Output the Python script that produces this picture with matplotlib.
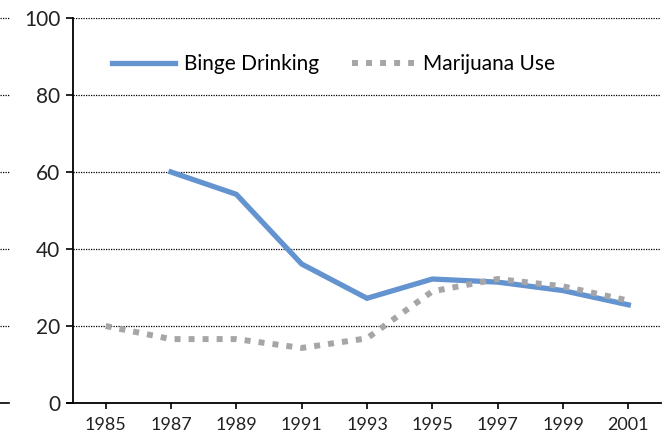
import matplotlib.pyplot as plt
import matplotlib.transforms as mtransforms

plt.rcParams['font.family'] = ['Lato', 'DejaVu Sans']

years = ['1985', '1987', '1989', '1991', '1993', '1995', '1997', '1999', '2001']
binge = [None, 60, 54.2, 36.1, 27.2, 32.2, 31.4, 29.2, 25.5]
marijuana = [20, 16.6, 16.6, 14.3, 16.8, 29.0, 32.2, 30.3, 26.6]
yticks = [0, 20, 40, 60, 80, 100]

fig = plt.figure(figsize=(6.67, 4.42), dpi=100)
ax = fig.add_axes([73/667, 39/442, 588/667, 385/442])

xs = list(range(len(years)))
bx = [x for x, v in zip(xs, binge) if v is not None]
bv = [v for v in binge if v is not None]
ax.plot(bx, bv, color='#6494d0', lw=3.8, solid_joinstyle='miter', label='Binge Drinking', zorder=3)
ax.plot(xs, marijuana, color='#a6a6a8', lw=4.3, linestyle=(0, (1, 1.35)),
        dash_capstyle='butt', label='Marijuana Use', zorder=4)

ax.set_xlim(-0.5, len(years) - 0.5)
ax.set_ylim(0, 100)
ax.set_xticks(xs)
ax.set_xticklabels(years)
ax.set_yticks(yticks)

for y in yticks[1:]:
    ax.axhline(y, color='black', lw=0.9, linestyle=(0, (1, 1)), zorder=1)

# leftover grid stubs at the far left edge of the picture
trans = mtransforms.blended_transform_factory(fig.transFigure, ax.transData)
for y in yticks[1:]:
    ax.plot([0, 9/667], [y, y], transform=trans, color='black', lw=0.9,
            linestyle=(0, (1, 1)), clip_on=False)
ax.plot([0, 9/667], [0, 0], transform=trans, color='black', lw=1.2, clip_on=False)

for s in ['top', 'right']:
    ax.spines[s].set_visible(False)
for s in ['left', 'bottom']:
    ax.spines[s].set_linewidth(1.3)
ax.spines['bottom'].set_bounds(-0.59, len(years) - 0.5)

ax.tick_params(axis='y', length=5, width=1.2, labelsize=15, pad=4)
ax.tick_params(axis='x', length=4, width=1.2, labelsize=13, pad=6)
ax.tick_params(axis='both', labelcolor='#222222')

ax.legend(loc='upper left', bbox_to_anchor=(0.035, 0.955), ncol=2, frameon=False,
          fontsize=15, handlelength=3.0, handletextpad=0.45, columnspacing=1.55)

fig.savefig('out.png', dpi=100)
